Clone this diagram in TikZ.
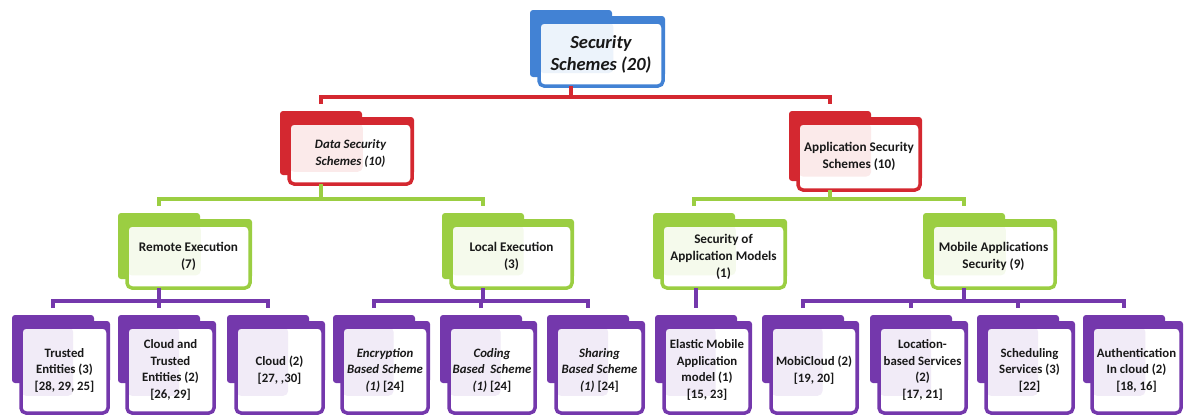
\documentclass[tikz,border=0pt]{standalone}
\usepackage{fontspec}
\setmainfont{Carlito}
\usetikzlibrary{backgrounds,calc}
\definecolor{cblue}{RGB}{66,130,212}
\definecolor{cred}{RGB}{212,40,48}
\definecolor{cgreen}{RGB}{155,206,66}
\definecolor{cpurple}{RGB}{116,56,172}
\tikzset{
  foldbox/.style={draw=#1, line width=3.5pt, rounded corners=5pt, fill=white,
    inner sep=0pt, align=center, text=black!90,
    path picture={\fill[#1!10] let \p1=(path picture bounding box.north west),
      \p2=(path picture bounding box.south east) in
      (\p1) rectangle ({\x1+0.6*(\x2-\x1)},{\y1+0.8*(\y2-\y1)});}},
  conn/.style={draw=#1, line width=4pt},
  tzero/.style={font=\fontsize{18.5}{22}\selectfont\bfseries\itshape},
  tone/.style={font=\fontsize{13.2}{16.5}\selectfont\bfseries},
  tonei/.style={font=\fontsize{12.8}{16.5}\selectfont\bfseries\itshape},
  ttwo/.style={font=\fontsize{13.2}{17}\selectfont\bfseries},
  tthree/.style={font=\fontsize{12.8}{16.5}\selectfont\bfseries},
  tthreei/.style={font=\fontsize{12.8}{16.5}\selectfont\bfseries\itshape},
}
\def\backcut{11}
% \fold[opts]{name}{L}{T}{R}{B}{colour}{text}
\newcommand\fold[8][]{%
  \node[foldbox=#7, #1, minimum width={#5-#3-11}, minimum height={#6-#4-14}]
    (#2) at ({(#3+7+#5)/2},{(#4+10+#6)/2}) {#8};
  \coordinate (#2-t) at ({#3+41},{#4-7});
  \coordinate (#2-b) at ({#3+41},{#6-2});
  \begin{scope}[on background layer]
    \fill[#7, rounded corners=3pt] (#3,#4) rectangle ({#3+82},{#4+14});
    \fill[#7, rounded corners=3pt] (#3,{#4+6}) rectangle (#5,{#6-\backcut});
  \end{scope}
}
\begin{document}
\begin{tikzpicture}[x=1pt,y=-1pt]
\useasboundingbox (0,0) rectangle (1185,418);
% level 0
\fold[tzero]{ss}{530}{10}{665}{88}{cblue}{Security\\Schemes (20)}
% level 1
\fold[tonei]{ds}{280}{111}{414}{186}{cred}{Data Security\\Schemes (10)}
\fold[tone]{as}{789}{111}{922}{192}{cred}{Application Security\\Schemes (10)}
% level 2
\fold[ttwo]{re}{118}{213}{252}{290}{cgreen}{Remote Execution\\(7)}
\fold[ttwo]{le}{442}{213}{574}{290}{cgreen}{Local Execution\\(3)}
\fold[ttwo]{sam}{653}{213}{787}{290}{cgreen}{Security of\\Application Models\\(1)}
\fold[ttwo]{mas}{923}{213}{1057}{290}{cgreen}{Mobile Applications\\Security (9)}
% level 3
\def\backcut{32}
\fold[tthree]{te}{12}{315}{110}{415}{cpurple}{Trusted\\Entities (3)\\{}[28, 29, 25]}
\fold[tthree]{ct}{118}{315}{216}{415}{cpurple}{Cloud and\\Trusted\\Entities (2)\\{}[26, 29]}
\fold[tthree]{cl}{227}{315}{325}{415}{cpurple}{Cloud (2)\\{}[27, ,30]}
\fold[tthreei]{en}{333}{315}{430}{415}{cpurple}{Encryption\\Based Scheme\\(1) {\upshape[24]}}
\fold[tthreei]{co}{440}{315}{537}{415}{cpurple}{Coding\\Based~~Scheme\\(1) {\upshape[24]}}
\fold[tthreei]{sh}{547}{315}{645}{415}{cpurple}{Sharing\\Based Scheme\\(1) {\upshape[24]}}
\fold[tthree]{el}{655}{315}{752}{415}{cpurple}{Elastic Mobile\\Application\\model (1)\\{}[15, 23]}
\fold[tthree]{mc}{762}{315}{859}{415}{cpurple}{MobiCloud (2)\\{}[19, 20]}
\fold[tthree]{lb}{870}{315}{968}{415}{cpurple}{Location-\\based Services\\(2)\\{}[17, 21]}
\fold[tthree]{sc}{977}{315}{1075}{415}{cpurple}{Scheduling\\Services (3)\\{}[22]}
\fold[tthree]{au}{1083}{315}{1183}{415}{cpurple}{Authentication\\In cloud (2)\\{}[18, 16]}
% buses
\coordinate (bus0) at (0,97);
\coordinate (bus1) at (0,199);
\coordinate (bus2) at (0,301);
% red
\draw[conn=cred] (ss-b) -- (ss-b |- bus0);
\draw[conn=cred] (ds-t) -- (ds-t |- bus0) -- (as-t |- bus0) -- (as-t);
% green
\draw[conn=cgreen] (ds-b) -- (ds-b |- bus1);
\draw[conn=cgreen] (re-t) -- (re-t |- bus1) -- (le-t |- bus1) -- (le-t);
\draw[conn=cgreen] (as-b) -- (as-b |- bus1);
\draw[conn=cgreen] (sam-t) -- (sam-t |- bus1) -- (mas-t |- bus1) -- (mas-t);
% purple
\draw[conn=cpurple] (re-b) -- (re-b |- bus2);
\draw[conn=cpurple] (te-t) -- (te-t |- bus2) -- (cl-t |- bus2) -- (cl-t);
\draw[conn=cpurple] (ct-t) -- (ct-t |- bus2);
\draw[conn=cpurple] (le-b) -- (le-b |- bus2);
\draw[conn=cpurple] (en-t) -- (en-t |- bus2) -- (sh-t |- bus2) -- (sh-t);
\draw[conn=cpurple] (co-t) -- (co-t |- bus2);
\draw[conn=cpurple] (el-t |- sam-b) -- (el-t);
\draw[conn=cpurple] (mas-b) -- (mas-b |- bus2);
\draw[conn=cpurple] (mc-t) -- (mc-t |- bus2) -- (au-t |- bus2) -- (au-t);
\draw[conn=cpurple] (lb-t) -- (lb-t |- bus2);
\draw[conn=cpurple] (sc-t) -- (sc-t |- bus2);
\end{tikzpicture}
\end{document}
